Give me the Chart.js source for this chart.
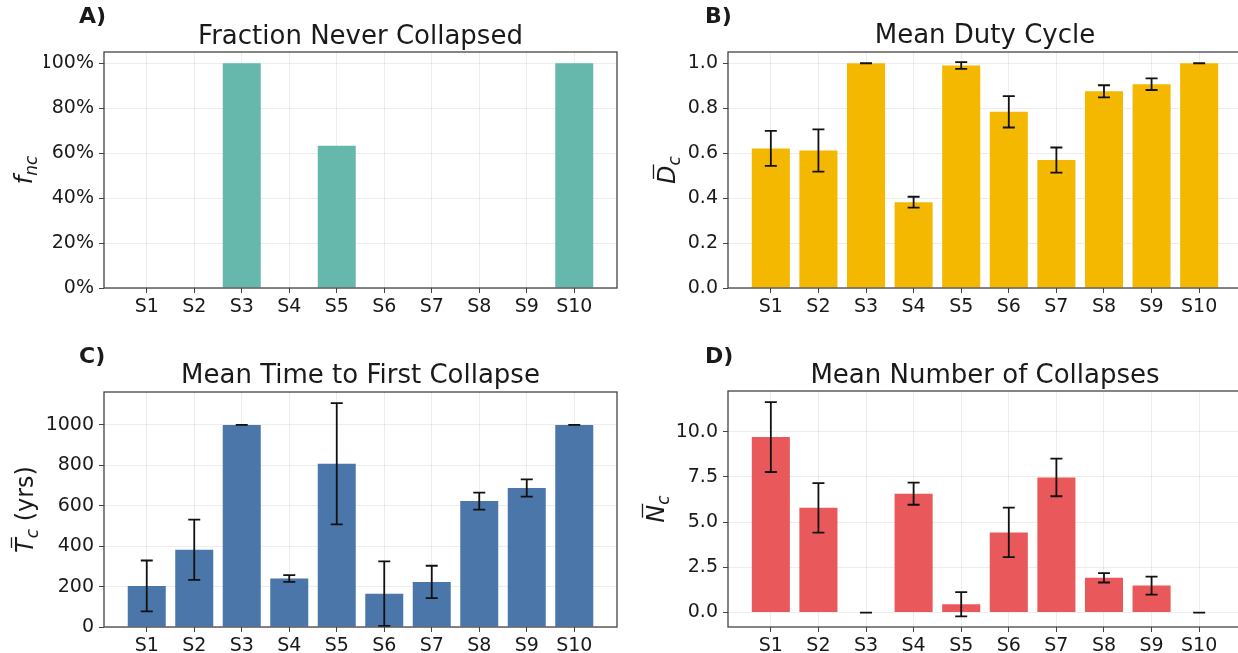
<!DOCTYPE html>
<html>
<head>
<meta charset="utf-8">
<script src="https://cdn.jsdelivr.net/npm/chart.js@4.4.1/dist/chart.umd.min.js"></script>
<style>
  html, body { margin: 0; padding: 0; background: #fff; overflow: hidden; width: 1238px; height: 653px; }
  canvas { position: absolute; }
</style>
</head>
<body>
<canvas id="panelA" width="620" height="326" style="left:0;top:0"></canvas>
<canvas id="panelB" width="630" height="326" style="left:620px;top:0"></canvas>
<canvas id="panelC" width="620" height="327" style="left:0;top:326px"></canvas>
<canvas id="panelD" width="630" height="327" style="left:620px;top:326px"></canvas>
<script>
const categories = ['S1', 'S2', 'S3', 'S4', 'S5', 'S6', 'S7', 'S8', 'S9', 'S10'];

// A) fraction never collapsed (%)
const fracNeverCollapsed = [0, 0, 100, 0, 63.3, 0, 0, 0, 0, 100];
// B) mean duty cycle
const dutyMean = [0.621, 0.612, 1.0, 0.382, 0.990, 0.784, 0.569, 0.875, 0.907, 1.0];
const dutyErr = [0.078, 0.094, 0, 0.024, 0.015, 0.070, 0.056, 0.027, 0.026, 0];
// C) mean time to first collapse (yrs)
const timeMean = [203, 382, 1000, 240, 808, 165, 223, 623, 688, 1000];
const timeErr = [126, 149, 0, 17, 300, 160, 80, 42, 43, 0];
// D) mean number of collapses
const collapsesMean = [9.70, 5.79, 0, 6.57, 0.46, 4.43, 7.47, 1.92, 1.49, 0];
const collapsesErr = [1.93, 1.37, 0, 0.61, 0.67, 1.37, 1.04, 0.26, 0.50, 0];

const pctTicks = [0, 20, 40, 60, 80, 100];
const dutyTicks = [0, 0.2, 0.4, 0.6, 0.8, 1.0];
const timeTicks = [0, 200, 400, 600, 800, 1000];
const collapseTicks = [0, 2.5, 5, 7.5, 10];

const FONT = "'DejaVu Sans', sans-serif";
const INK = '#1a1a1a';

// titles, panel letters and math-style y labels per canvas
const panels = {
  panelA: { title: 'Fraction Never Collapsed', letter: 'A)', letterX: 79, letterY: 23, titleY: 44, labelX: 24,
            ylabel: [{ t: 'f', it: true }, { t: 'nc', it: true, sub: true }] },
  panelB: { title: 'Mean Duty Cycle', letter: 'B)', letterX: 85, letterY: 23, titleY: 43, labelX: 47,
            ylabel: [{ t: 'D', it: true, bar: true }, { t: 'c', it: true, sub: true }] },
  panelC: { title: 'Mean Time to First Collapse', letter: 'C)', letterX: 79, letterY: 37, titleY: 57, labelX: 25,
            ylabel: [{ t: 'T', it: true, bar: true }, { t: 'c', it: true, sub: true }, { t: ' (yrs)' }] },
  panelD: { title: 'Mean Number of Collapses', letter: 'D)', letterX: 85, letterY: 37, titleY: 57, labelX: 36,
            ylabel: [{ t: 'N', it: true, bar: true }, { t: 'c', it: true, sub: true }] }
};

function drawYLabel(ctx, parts, cx, cy) {
  ctx.save();
  ctx.translate(cx, cy);
  ctx.rotate(-Math.PI / 2);
  ctx.fillStyle = INK;
  ctx.textBaseline = 'alphabetic';
  ctx.textAlign = 'left';
  let total = 0;
  const items = parts.map(p => {
    const size = p.sub ? 17 : 24;
    const font = (p.it ? 'italic ' : '') + size + 'px ' + FONT;
    ctx.font = font;
    const w = ctx.measureText(p.t).width;
    total += w;
    return Object.assign({ font, w, size }, p);
  });
  let xx = -total / 2;
  const base = 8;
  items.forEach(it => {
    ctx.font = it.font;
    ctx.fillText(it.t, xx, it.sub ? base + 5 : base);
    if (it.bar) {
      ctx.strokeStyle = INK;
      ctx.lineWidth = 1.3;
      ctx.beginPath();
      const yb = base - it.size * 0.73 - 4;
      ctx.moveTo(xx + 5, yb);
      ctx.lineTo(xx + it.w + 1, yb);
      ctx.stroke();
    }
    xx += it.w;
  });
  ctx.restore();
}

const panelDecor = {
  id: 'panelDecor',
  afterDatasetsDraw(chart) {
    const ds = chart.data.datasets[0];
    if (!ds.errors) return;
    const { ctx, scales: { x, y } } = chart;
    ctx.save();
    ctx.strokeStyle = '#111';
    ctx.lineWidth = 1.8;
    ds.errors.forEach((e, i) => {
      const px = x.getPixelForValue(i);
      const lo = y.getPixelForValue(ds.data[i].y - e);
      const hi = y.getPixelForValue(ds.data[i].y + e);
      ctx.beginPath();
      ctx.moveTo(px, lo); ctx.lineTo(px, hi);
      ctx.moveTo(px - 6, lo); ctx.lineTo(px + 6, lo);
      ctx.moveTo(px - 6, hi); ctx.lineTo(px + 6, hi);
      ctx.stroke();
    });
    ctx.restore();
  },
  afterDraw(chart) {
    const p = panels[chart.canvas.id];
    const { ctx, chartArea: a } = chart;
    ctx.save();
    // full box around the axes
    ctx.strokeStyle = '#444';
    ctx.lineWidth = 1.3;
    ctx.strokeRect(a.left, a.top, a.right - a.left, a.bottom - a.top);
    ctx.fillStyle = INK;
    ctx.textAlign = 'center';
    ctx.textBaseline = 'alphabetic';
    ctx.font = '26px ' + FONT;
    ctx.fillText(p.title, (a.left + a.right) / 2, p.titleY);
    ctx.textAlign = 'left';
    ctx.font = 'bold 22px ' + FONT;
    ctx.fillText(p.letter, p.letterX, p.letterY);
    ctx.restore();
    drawYLabel(ctx, p.ylabel, p.labelX, (a.top + a.bottom) / 2);
  }
};

function makePanel(id, cfg) {
  const data = cfg.values.map((v, i) => ({ x: i, y: v }));
  return new Chart(document.getElementById(id), {
    type: 'bar',
    data: {
      datasets: [{
        data,
        errors: cfg.errors,
        backgroundColor: cfg.color,
        borderWidth: 0,
        barPercentage: 0.8,
        categoryPercentage: 1.0
      }]
    },
    options: {
      responsive: false,
      animation: false,
      events: [],
      layout: { padding: cfg.padding },
      plugins: { legend: { display: false }, tooltip: { enabled: false }, title: { display: false } },
      scales: {
        x: {
          type: 'linear',
          min: -0.9,
          max: 9.9,
          offset: false,
          afterBuildTicks: axis => { axis.ticks = categories.map((_, i) => ({ value: i })); },
          afterFit: s => { s.height = cfg.xHeight; },
          grid: { offset: false, color: 'rgba(0,0,0,0.07)', tickColor: '#444', tickLength: 5 },
          border: { display: false },
          ticks: { color: INK, font: { family: FONT, size: 19 }, padding: 3, maxRotation: 0, autoSkip: false,
                   callback: v => categories[v] }
        },
        y: {
          min: cfg.yMin,
          max: cfg.yMax,
          afterBuildTicks: axis => { axis.ticks = cfg.yTicks.map(v => ({ value: v })); },
          afterFit: s => { s.width = 60; },
          grid: { color: 'rgba(0,0,0,0.07)', tickColor: '#444', tickLength: 5 },
          border: { display: false },
          ticks: { color: INK, font: { family: FONT, size: 19 }, padding: 5, callback: cfg.fmt }
        }
      }
    },
    plugins: [panelDecor]
  });
}

makePanel('panelA', {
  values: fracNeverCollapsed, color: '#66b7ac', yMin: 0, yMax: 105, yTicks: pctTicks, xHeight: 38,
  fmt: v => v + '%', padding: { left: 44, right: 3, top: 52, bottom: 0 }
});
makePanel('panelB', {
  values: dutyMean, errors: dutyErr, color: '#f4b800', yMin: 0, yMax: 1.05, yTicks: dutyTicks, xHeight: 38,
  fmt: v => v.toFixed(1), padding: { left: 48, right: 8, top: 52, bottom: 0 }
});
makePanel('panelC', {
  values: timeMean, errors: timeErr, color: '#4a76aa', yMin: 0, yMax: 1163, yTicks: timeTicks, xHeight: 26,
  fmt: v => String(v), padding: { left: 44, right: 3, top: 66, bottom: 0 }
});
makePanel('panelD', {
  values: collapsesMean, errors: collapsesErr, color: '#e9585a', yMin: -0.8, yMax: 12.25, yTicks: collapseTicks, xHeight: 26,
  fmt: v => v.toFixed(1), padding: { left: 48, right: 8, top: 65, bottom: 0 }
});
</script>
</body>
</html>
